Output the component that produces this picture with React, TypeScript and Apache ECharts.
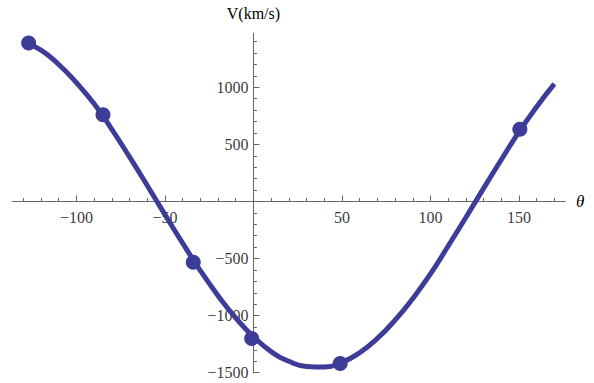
import { useEffect, useRef } from "react";
import * as echarts from "echarts";

// Fitted velocity curve, sampled every 10 degrees
const thetaSamples = [
  -130, -120, -110, -100, -90, -80, -70, -60, -50, -40, -30, -20, -10, 0, 10, 20,
  30, 40, 50, 60, 70, 80, 90, 100, 110, 120, 130, 140, 150, 160, 170,
];
const curveV = [
  1400, 1325, 1200, 1040, 855, 632, 390, 140, -115, -365, -605, -825, -1020, -1185,
  -1315, -1400, -1445, -1450, -1410, -1325, -1200, -1040, -850, -635, -390, -140,
  115, 365, 610, 830, 1030,
];

// Measured points
const pointTheta = [-127, -85, -34, -1, 49, 150.5];
const pointV = [1388, 760, -532, -1200, -1420, 633];

// Axis ticks and labels
const xMajorTicks = [-100, -50, 0, 50, 100, 150];
const xMinorTicks = [
  -130, -120, -110, -90, -80, -70, -60, -40, -30, -20, -10, 10, 20, 30, 40, 60, 70,
  80, 90, 110, 120, 130, 140, 160, 170,
];
const xTickLabels = [-100, -50, 50, 100, 150];
const yMajorTicks = [-1500, -1000, -500, 0, 500, 1000];
const yMinorTicks = [
  -1400, -1300, -1200, -1100, -900, -800, -700, -600, -400, -300, -200, -100, 100,
  200, 300, 400, 600, 700, 800, 900, 1100, 1200, 1300, 1400,
];
const yTickLabels = [-1500, -1000, -500, 500, 1000];

const X_MIN = -136;
const X_MAX = 176;
const Y_MIN = -1500;
const Y_MAX = 1473;

const LINE_COLOR = "#3d3d99";
const AXIS_COLOR = "#666666";
const FONT = "Liberation Serif";

const minus = (v: number) => String(v).replace("-", "\u2212");

export default function App() {
  const ref = useRef<HTMLDivElement>(null);

  useEffect(() => {
    if (!ref.current) return;
    const chart = echarts.init(ref.current, undefined, { renderer: "svg" });

    const axisLine = {
      show: true,
      onZero: true,
      onZeroAxisIndex: 0,
      lineStyle: { color: AXIS_COLOR, width: 1 },
    };

    const xBase = {
      type: "value" as const,
      min: X_MIN,
      max: X_MAX,
      position: "bottom" as const,
      splitLine: { show: false },
      minorTick: { show: false },
      axisLabel: { show: false },
      axisLine,
    };
    const yBase = {
      type: "value" as const,
      min: Y_MIN,
      max: Y_MAX,
      position: "left" as const,
      splitLine: { show: false },
      minorTick: { show: false },
      axisLabel: { show: false },
      axisLine,
    };

    const tickLabelText = {
      show: true,
      fontFamily: FONT,
      fontSize: 16,
      color: "#000",
      formatter: (p: { value: number[] }) =>
        minus(p.value[0] !== 0 ? p.value[0] : p.value[1]),
    };

    chart.setOption({
      animation: false,
      backgroundColor: "#ffffff",
      grid: {
        left: 12.7,
        right: 29,
        top: 33.3,
        bottom: 10.3,
        containLabel: false,
        outerBoundsMode: "none",
      },
      xAxis: [
        {
          ...xBase,
          name: "θ",
          nameLocation: "end",
          nameGap: 11,
          nameTextStyle: {
            fontFamily: FONT,
            fontSize: 17,
            fontStyle: "italic",
            color: "#000",
            verticalAlign: "middle",
          },
          axisTick: {
            show: true,
            inside: true,
            length: 6,
            customValues: xMajorTicks,
            lineStyle: { color: AXIS_COLOR },
          },
        },
        {
          ...xBase,
          axisTick: {
            show: true,
            inside: true,
            length: 3.5,
            customValues: xMinorTicks,
            lineStyle: { color: AXIS_COLOR },
          },
        },
      ],
      yAxis: [
        {
          ...yBase,
          name: "V(km/s)",
          nameLocation: "end",
          nameGap: 12,
          nameTextStyle: {
            fontFamily: FONT,
            fontSize: 16,
            color: "#000",
          },
          axisTick: {
            show: true,
            inside: true,
            length: 6,
            customValues: yMajorTicks,
            lineStyle: { color: AXIS_COLOR },
          },
        },
        {
          ...yBase,
          axisTick: {
            show: true,
            inside: true,
            length: 3.5,
            customValues: yMinorTicks,
            lineStyle: { color: AXIS_COLOR },
          },
        },
      ],
      series: [
        {
          // theta tick labels, hung below the zero line
          type: "scatter",
          xAxisIndex: 0,
          yAxisIndex: 0,
          data: xTickLabels.map((t) => [t, 0]),
          symbolSize: 0,
          silent: true,
          clip: false,
          label: { ...tickLabelText, position: "bottom", distance: 8 },
          z: 1,
        },
        {
          // velocity tick labels, left of the zero line
          type: "scatter",
          xAxisIndex: 0,
          yAxisIndex: 0,
          data: yTickLabels.map((v) => [0, v]),
          symbolSize: 0,
          silent: true,
          clip: false,
          label: { ...tickLabelText, position: "left", distance: 5 },
          z: 1,
        },
        {
          type: "line",
          xAxisIndex: 0,
          yAxisIndex: 0,
          data: thetaSamples.map((t, i) => [t, curveV[i]]),
          smooth: 0.5,
          showSymbol: false,
          lineStyle: { color: LINE_COLOR, width: 5 },
          itemStyle: { color: LINE_COLOR },
          z: 2,
        },
        {
          type: "scatter",
          xAxisIndex: 0,
          yAxisIndex: 0,
          data: pointTheta.map((t, i) => [t, pointV[i]]),
          symbol: "circle",
          symbolSize: 15,
          itemStyle: { color: LINE_COLOR, opacity: 1 },
          z: 3,
        },
      ],
    });

    return () => {
      chart.dispose();
    };
  }, []);

  return (
    <div
      ref={ref}
      style={{
        position: "fixed",
        left: 0,
        top: 0,
        width: 594,
        height: 383,
        background: "#fff",
      }}
    />
  );
}
